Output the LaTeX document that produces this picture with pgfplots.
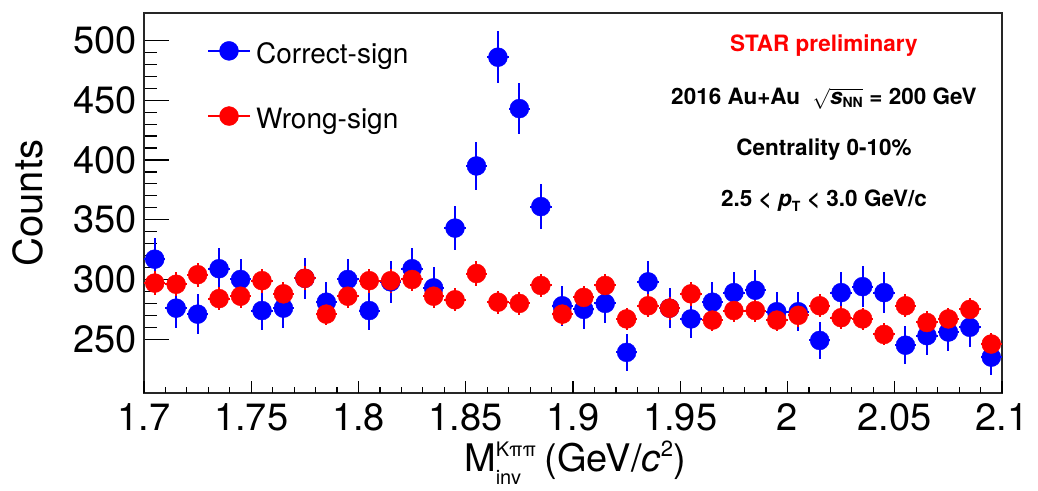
\documentclass[border=0pt]{standalone}
\usepackage{fontspec}
\setmainfont{TeX Gyre Heros}
\usepackage{pgfplots}
\pgfplotsset{compat=1.18}
\usepackage{pgfplotstable}

\pgfplotstableread{
x y ey ex
1.705 317 17.8 0.005
1.715 276 16.6 0.005
1.725 271 16.5 0.005
1.735 309 17.6 0.005
1.745 300 17.3 0.005
1.755 274 16.6 0.005
1.765 276 16.6 0.005
1.775 301 17.3 0.005
1.785 281 16.8 0.005
1.795 300 17.3 0.005
1.805 274 16.6 0.005
1.815 298 17.3 0.005
1.825 309 17.6 0.005
1.835 293 17.1 0.005
1.845 343 18.5 0.005
1.855 395 19.9 0.005
1.865 486 22.0 0.005
1.875 443 21.0 0.005
1.885 361 19.0 0.005
1.895 278 16.7 0.005
1.905 275 16.6 0.005
1.915 280 16.7 0.005
1.925 239 15.5 0.005
1.935 298 17.3 0.005
1.945 276 16.6 0.005
1.955 267 16.3 0.005
1.965 281 16.8 0.005
1.975 289 17.0 0.005
1.985 291 17.1 0.005
1.995 273 16.5 0.005
2.005 273 16.5 0.005
2.015 249 15.8 0.005
2.025 289 17.0 0.005
2.035 294 17.1 0.005
2.045 289 17.0 0.005
2.055 245 15.7 0.005
2.065 253 15.9 0.005
2.075 256 16.0 0.005
2.085 260 16.1 0.005
2.095 235 15.3 0.005
}\correct

\pgfplotstableread{
x y ey ex
1.705 297 9.9 0.005
1.715 296 9.9 0.005
1.725 304 10.1 0.005
1.735 284 9.7 0.005
1.745 286 9.8 0.005
1.755 299 10.0 0.005
1.765 288 9.8 0.005
1.775 301 10.0 0.005
1.785 271 9.5 0.005
1.795 286 9.8 0.005
1.805 299 10.0 0.005
1.815 299 10.0 0.005
1.825 300 10.0 0.005
1.835 286 9.8 0.005
1.845 283 9.7 0.005
1.855 305 10.1 0.005
1.865 281 9.7 0.005
1.875 280 9.7 0.005
1.885 295 9.9 0.005
1.895 271 9.5 0.005
1.905 285 9.7 0.005
1.915 295 9.9 0.005
1.925 267 9.4 0.005
1.935 278 9.6 0.005
1.945 276 9.6 0.005
1.955 288 9.8 0.005
1.965 266 9.4 0.005
1.975 274 9.6 0.005
1.985 274 9.6 0.005
1.995 266 9.4 0.005
2.005 270 9.5 0.005
2.015 278 9.6 0.005
2.025 268 9.5 0.005
2.035 267 9.4 0.005
2.045 254 9.2 0.005
2.055 278 9.6 0.005
2.065 264 9.4 0.005
2.075 267 9.4 0.005
2.085 275 9.6 0.005
2.095 246 9.1 0.005
}\wrong

\begin{document}
\begin{tikzpicture}
\begin{axis}[
  at={(0,0)}, anchor=south west,
  scale only axis, width=858pt, height=380pt,
  xmin=1.7, xmax=2.1, ymin=205, ymax=523,
  clip=false,
  axis line style={line width=1.2pt, black!85},
  tick pos=left, tick align=inside,
  xtick=\empty,
  ytick={250,300,350,400,450,500},
  yticklabels={250,300,350,400,450,500},
  minor y tick num=4,
  major tick length=25pt, minor tick length=12.5pt,
  tick style={line width=1.2pt, black},
  yticklabel style={font=\fontsize{38}{40}\selectfont, anchor=east, inner sep=0pt, xshift=-7pt},
  ylabel={Counts},
  ylabel style={font=\fontsize{40}{44}\selectfont, at={(axis description cs:-0.1352,0.5)}, anchor=center, inner sep=0pt},
  xlabel={M\rlap{\raisebox{15pt}{\fontsize{20}{20}\selectfont Kππ}}\raisebox{-13pt}{\fontsize{20}{20}\selectfont inv}\hspace{13pt} (GeV/\textit{c}\raisebox{15pt}{\fontsize{22}{22}\selectfont 2})},
  xlabel style={font=\fontsize{38}{40}\selectfont, at={(axis description cs:0.5023,0)}, anchor=base, inner sep=0pt, yshift=-78.7pt},
  legend style={at={(axis description cs:0.0735,0.929)}, anchor=north west, draw=none, fill=none,
    font=\fontsize{28}{30}\selectfont, row sep=39pt, inner sep=0pt},
  legend cell align=left,
]
\addplot[only marks, mark=*, mark size=9.5pt, color=blue, mark options={fill=blue, draw=blue},
  legend image code/.code={\draw[blue, line width=1.5pt] (0pt,2.5pt) -- (42pt,2.5pt); \fill[blue] (21pt,2.5pt) circle (9.5pt); \path (46pt,2.5pt);},
  error bars/.cd, x dir=both, x explicit, y dir=both, y explicit,
  error bar style={line width=2pt, color=blue}, error mark=none]
  table[x=x, y=y, x error=ex, y error=ey]{\correct};
\addlegendentry{Correct-sign}
\addplot[only marks, mark=*, mark size=9.5pt, color=red, mark options={fill=red, draw=red},
  legend image code/.code={\draw[red, line width=1.5pt] (0pt,2.5pt) -- (42pt,2.5pt); \fill[red] (21pt,2.5pt) circle (9.5pt); \path (46pt,2.5pt);},
  error bars/.cd, x dir=both, x explicit, y dir=both, y explicit,
  error bar style={line width=2pt, color=red}, error mark=none]
  table[x=x, y=y, x error=ex, y error=ey]{\wrong};
\addlegendentry{Wrong-sign}

\node[anchor=base, text=red, font=\bfseries\fontsize{22.5}{26}\selectfont, inner sep=0pt] at (axis description cs:0.7925,0.898) {STAR preliminary};
\node[anchor=base, font=\bfseries\fontsize{22.5}{26}\selectfont, inner sep=0pt] at (axis description cs:0.7925,0.759) {2016 Au+Au\ \ $\sqrt{\mbox{\bfseries\itshape s}_{\mbox{\bfseries\fontsize{14}{14}\selectfont NN}}}$ = 200 GeV};
\node[anchor=base, font=\bfseries\fontsize{22.5}{26}\selectfont, inner sep=0pt] at (axis description cs:0.7925,0.624) {Centrality 0-10\%};
\node[anchor=base, font=\bfseries\fontsize{22.5}{26}\selectfont, inner sep=0pt] at (axis description cs:0.7925,0.492) {2.5 < $\mbox{\bfseries\itshape p}_{\mbox{\bfseries\fontsize{14}{14}\selectfont T}}$ < 3.0 GeV/c};
\end{axis}

\begin{axis}[
  at={(0,0)}, anchor=south west,
  scale only axis, width=858pt, height=380pt,
  xmin=1.7, xmax=2.1, ymin=205, ymax=523,
  axis line style={draw=none},
  tick pos=left, tick align=inside,
  ytick=\empty,
  xtick={1.7,1.75,1.8,1.85,1.9,1.95,2,2.05,2.1},
  xticklabels={1.7,1.75,1.8,1.85,1.9,1.95,2,2.05,2.1},
  minor x tick num=4,
  major tick length=12.5pt, minor tick length=6.5pt,
  tick style={line width=1.2pt, black},
  xticklabel style={font=\fontsize{38}{40}\selectfont, anchor=north, inner sep=0pt, yshift=-10pt},
]
\end{axis}
\pgfresetboundingbox
\useasboundingbox (-144pt,-97pt) rectangle (894pt,393pt);
\end{tikzpicture}
\end{document}
